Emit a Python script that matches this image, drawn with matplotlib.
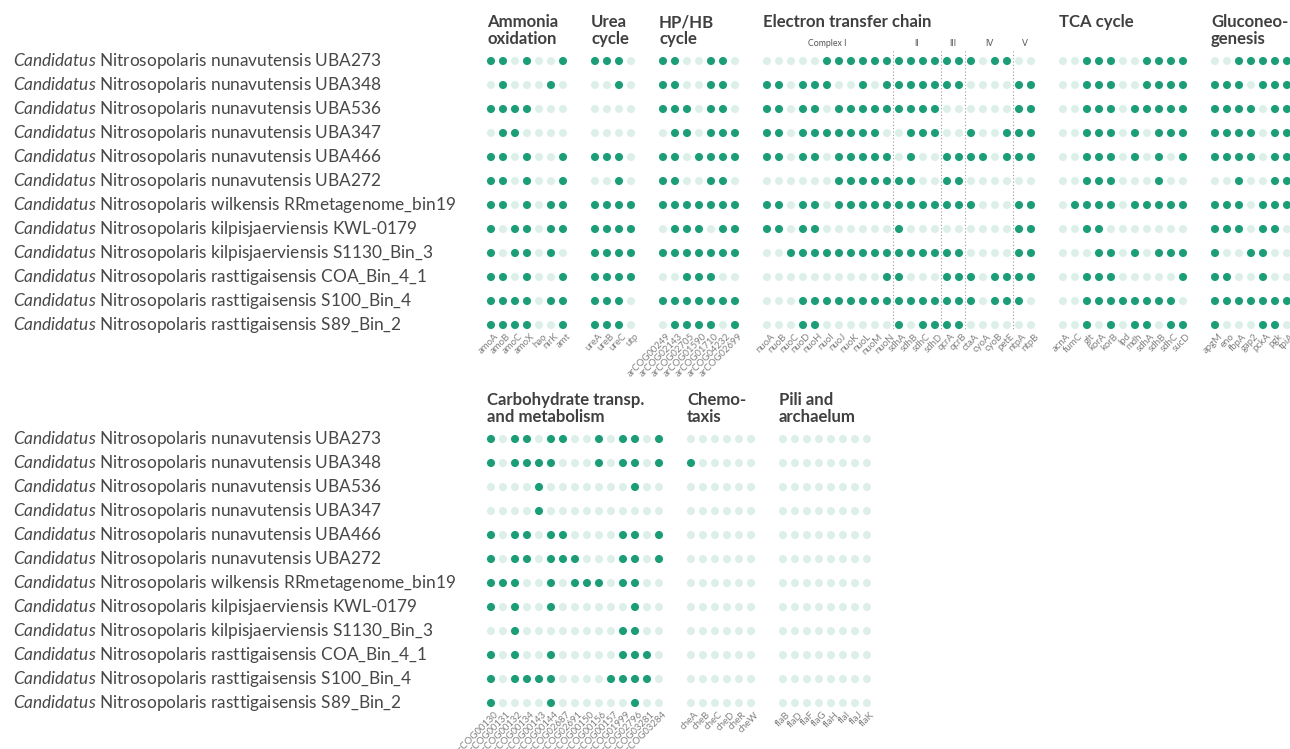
import matplotlib.pyplot as plt

plt.rcParams['font.family'] = ['Lato', 'DejaVu Sans']
plt.rcParams['mathtext.fontset'] = 'custom'
plt.rcParams['mathtext.it'] = 'Lato:italic'
plt.rcParams['mathtext.rm'] = 'Lato'

# genomes (rows, same order in both panels)
genomes = [
    "Nitrosopolaris nunavutensis UBA273",
    "Nitrosopolaris nunavutensis UBA348",
    "Nitrosopolaris nunavutensis UBA536",
    "Nitrosopolaris nunavutensis UBA347",
    "Nitrosopolaris nunavutensis UBA466",
    "Nitrosopolaris nunavutensis UBA272",
    "Nitrosopolaris wilkensis RRmetagenome_bin19",
    "Nitrosopolaris kilpisjaerviensis KWL-0179",
    "Nitrosopolaris kilpisjaerviensis S1130_Bin_3",
    "Nitrosopolaris rasttigaisensis COA_Bin_4_1",
    "Nitrosopolaris rasttigaisensis S100_Bin_4",
    "Nitrosopolaris rasttigaisensis S89_Bin_2",
]

# gene presence (1) / absence (0), one string per genome
ammonia_genes = ["amoA", "amoB", "amoC", "amoX", "hao", "nirK", "amt"]
ammonia = ["1101001", "0100010", "1111000", "0110000", "1101001", "1101001",
           "1101011", "1011011", "1011010", "1101001", "1111011", "1111001"]

urea_genes = ["ureA", "ureB", "ureC", "utp"]
urea = ["1110", "0010", "0000", "0000", "1110", "0010",
        "1111", "1111", "1111", "1111", "1110", "1110"]

hphb_genes = ["arCOG00249", "arCOG02143", "arCOG02705", "arCOG01590",
              "arCOG01710", "arCOG04232", "arCOG02699"]
hphb = ["1100110", "1100110", "1110110", "0110111", "1101111", "1100110",
        "1111111", "0111011", "1111111", "0011100", "1111111", "0111101"]

etc_genes = ["nuoA", "nuoB", "nuoC", "nuoD", "nuoH", "nuoI", "nuoJ", "nuoK",
             "nuoL", "nuoM", "nuoN", "sdhA", "sdhB", "sdhC", "sdhD", "qcrA",
             "qcrB", "ctaA", "cyoA", "cyoB", "petE", "ntpA", "ntpB"]
etc = [
    "00000111111" + "1111" + "11" + "1011" + "00",
    "11011100101" + "1111" + "11" + "0000" + "11",
    "11011011111" + "1111" + "00" + "0000" + "11",
    "11011111110" + "0111" + "00" + "1001" + "11",
    "11011011111" + "0100" + "11" + "1101" + "11",
    "00000011111" + "1100" + "11" + "0000" + "00",
    "11011011111" + "1111" + "11" + "1000" + "11",
    "11011000000" + "1000" + "00" + "0000" + "11",
    "00111111111" + "1111" + "11" + "0000" + "11",
    "00000000001" + "1000" + "11" + "1011" + "11",
    "00011111111" + "1111" + "11" + "1011" + "10",
    "00011000000" + "1011" + "11" + "0000" + "00",
]
etc_complexes = [("Complex I", 0, 10), ("II", 11, 14), ("III", 15, 16),
                 ("IV", 17, 20), ("V", 21, 22)]

tca_genes = ["acnA", "fumC", "glt", "korA", "korB", "lpd", "mdh", "sdhA",
             "sdhB", "sdhC", "sucD"]
tca = ["00111001111", "00111001111", "00111011111", "00111010111",
       "00111010101", "00111000100", "01111011111", "00110000000",
       "00011010111", "00111000001", "00111111110", "00101011011"]

gluco_genes = ["apgM", "eno", "fbpA", "gap2", "pckA", "pgk", "tpiA"]
gluco = ["0011111", "1110111", "1111011", "1111011", "1111011", "0010011",
         "1110111", "1110110", "1001100", "1100100", "1111111", "1000110"]

carb_genes = ["arCOG00130", "arCOG00131", "arCOG00132", "arCOG00134",
              "arCOG00143", "arCOG00144", "arCOG02687", "arCOG02691",
              "arCOG00150", "arCOG00156", "arCOG00157", "arCOG01999",
              "arCOG02796", "arCOG03281", "arCOG03284"]
carb = ["101101100101101", "101111000101101", "000010000000100",
        "000010000000000", "101101100001101", "101101110001101",
        "111001011101100", "101001000000100", "001000000001100",
        "101001000001110", "101111000011110", "100001000000100"]

chemo_genes = ["cheA", "cheB", "cheC", "cheD", "cheR", "cheW"]
chemo = ["000000", "100000"] + ["000000"] * 10

pili_genes = ["flaB", "flaD", "flaF", "flaG", "flaH", "flaI", "flaJ", "flaK"]
pili = ["00000000"] * 12

top_groups = [
    ("Ammonia\noxidation", ammonia_genes, ammonia),
    ("Urea\ncycle", urea_genes, urea),
    ("HP/HB\ncycle", hphb_genes, hphb),
    ("Electron transfer chain", etc_genes, etc),
    ("TCA cycle", tca_genes, tca),
    ("Gluconeo-\ngenesis", gluco_genes, gluco),
]
bottom_groups = [
    ("Carbohydrate transp.\nand metabolism", carb_genes, carb),
    ("Chemo-\ntaxis", chemo_genes, chemo),
    ("Pili and\narchaelum", pili_genes, pili),
]

ON = "#1b9e77"
OFF = "#dcf0e9"
TITLE_C = "#404040"
LABEL_C = "#474747"
GENE_C = "#808080"

X0 = 491      # first dot column
STEP = 12     # dot spacing
GAP = 32      # distance from last dot of a group to first dot of the next
ROW = 24


def draw_panel(ax, groups, y_first, title_top):
    ys = [y_first + i * ROW for i in range(len(genomes))]
    for name, y in zip(genomes, ys):
        ax.text(13, y, r"$\it{Candidatus}$ " + name, fontsize=12.45,
                color=LABEL_C, ha="left", va="center")
    x = X0
    for title, genes, rows in groups:
        xs = [x + j * STEP for j in range(len(genes))]
        ax.text(xs[0] - 4, title_top, title, fontsize=12.1, fontweight="bold",
                color=TITLE_C, ha="left", va="top", linespacing=1.04)
        for y, row in zip(ys, rows):
            cols = [ON if c == "1" else OFF for c in row]
            ax.scatter(xs, [y] * len(xs), s=34, c=cols, linewidths=0, zorder=3)
        for gx, g in zip(xs, genes):
            ax.text(gx + 3, ys[-1] + 7, g, fontsize=6.9, color=GENE_C,
                    rotation=45, rotation_mode="anchor", ha="right", va="top")
        if genes is etc_genes:
            for lab, a, b in etc_complexes:
                ax.text((xs[a] + xs[b]) / 2, y_first - 18, lab, fontsize=6.3,
                        color="#555555", ha="center", va="center")
                if b < len(xs) - 1:
                    xm = (xs[b] + xs[b + 1]) / 2
                    ax.plot([xm, xm], [y_first - 10, ys[-1] + 4], color="#9a9a9a",
                            lw=0.8, ls=(0, (1, 2)), zorder=1)
        x = xs[-1] + GAP


fig = plt.figure(figsize=(12.9, 7.49), dpi=100)
ax = fig.add_axes([0, 0, 1, 1])
ax.set_xlim(0, 1290)
ax.set_ylim(749, 0)
ax.axis("off")

draw_panel(ax, top_groups, 61, 14)
draw_panel(ax, bottom_groups, 439, 392)

fig.savefig("out.png", dpi=100)
